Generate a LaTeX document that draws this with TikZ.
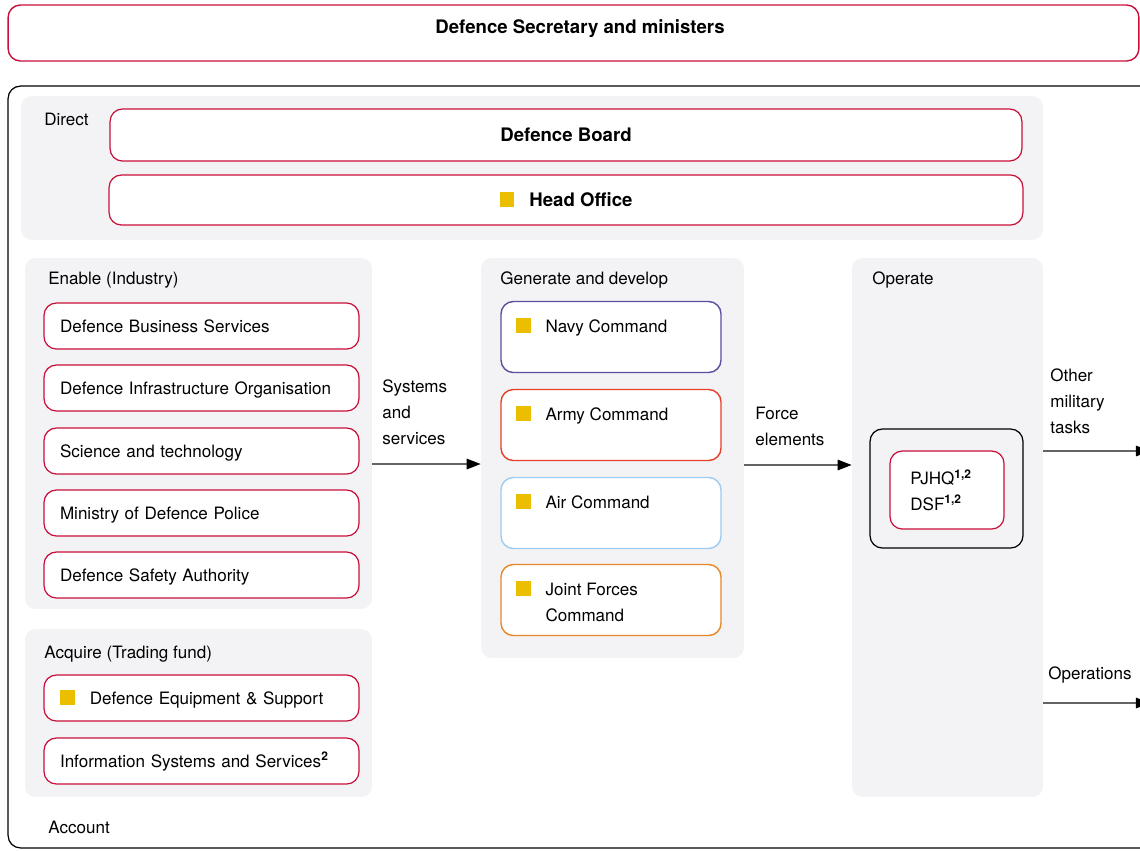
\documentclass[tikz,border=0pt]{standalone}
\usepackage{fontspec}
\setmainfont{TeX Gyre Heros}
\usepackage{xcolor}
\usetikzlibrary{positioning}
\usetikzlibrary{arrows.meta}

\definecolor{modred}{RGB}{200,16,58}
\definecolor{panelgray}{RGB}{243,243,245}
\definecolor{markyellow}{RGB}{236,190,0}
\definecolor{navyline}{RGB}{88,80,160}
\definecolor{armyline}{RGB}{232,64,40}
\definecolor{airline}{RGB}{156,204,240}
\definecolor{jointline}{RGB}{230,136,40}
\definecolor{arrowgray}{RGB}{100,100,100}

\newcommand{\marker}{\textcolor{markyellow}{\rule[-0.3pt]{8.5pt}{8.5pt}}\hspace{8.5pt}}

\begin{document}
\begin{tikzpicture}[x=0.02cm, y=-0.02cm, font=\fontsize{9.7}{14.7}\selectfont,
    panel/.style={fill=panelgray, rounded corners=6pt, inner sep=0pt},
    heading/.style={anchor=west, inner sep=0pt, align=left},
    unit/.style={draw=modred, fill=white, line width=0.7pt, rounded corners=7pt,
        minimum width=6.3cm, minimum height=0.92cm, text width=5.66cm, align=left,
        inner xsep=0.32cm, inner ysep=0pt, text height=7.2pt, text depth=0pt},
    command/.style={draw=#1, fill=white, line width=0.8pt, rounded corners=7pt,
        minimum width=4.4cm, minimum height=1.42cm},
    boldtext/.style={font=\fontsize{10.6}{13}\selectfont\bfseries},
    flow/.style={arrowgray, line width=0.7pt, -{Triangle[length=8pt, width=6pt, color=black]}}]
        \useasboundingbox (0,0) rectangle (1140,850);
        \clip (0,0) rectangle (1140,850);

        % Ministers and the department
        \node[draw=modred, line width=0.8pt, rounded corners=7pt, minimum width=22.62cm, minimum height=1.12cm] (secretary) at (573.5,33) {};
        \node[boldtext, inner sep=0pt] (secretarytext) at (580,28.5) {Defence Secretary and ministers};
        \node[draw=black, line width=0.7pt, rounded corners=7pt, minimum width=23.04cm, minimum height=15.24cm] (department) at (584,467) {};

        % Direct
        \node[panel, minimum width=20.44cm, minimum height=2.88cm] (direct) at (532,168) {};
        \node[heading] (directtitle) at (44,119) {Direct};
        \node[unit, boldtext, text width=, align=center, minimum width=18.24cm, minimum height=1.04cm] (board) at (566,135) {Defence Board};
        \node[unit, boldtext, text width=, align=center, minimum width=18.28cm, minimum height=1.0cm] (headoffice) at (566,200) {\marker Head Office};

        % Enable
        \node[panel, minimum width=6.94cm, minimum height=7.02cm] (enable) at (198.5,433.5) {};
        \node[heading] (enabletitle) at (48,280) {Enable (Industry)};
        \node[unit] (dbs) at (201.5,326) {Defence Business Services};
        \node[unit] (dio) at (201.5,388) {Defence Infrastructure Organisation};
        \node[unit] (dstl) at (201.5,451) {Science and technology};
        \node[unit] (police) at (201.5,513) {Ministry of Defence Police};
        \node[unit] (dsa) at (201.5,575) {Defence Safety Authority};

        % Acquire
        \node[panel, minimum width=6.94cm, minimum height=3.36cm] (acquire) at (198.5,713) {};
        \node[heading] (acquiretitle) at (44,654) {Acquire (Trading fund)};
        \node[unit] (des) at (201.5,698) {\marker Defence Equipment \& Support};
        \node[unit] (iss) at (201.5,761) {Information Systems and Services\textsuperscript{\textbf{2}}};
        \node[heading] (account) at (48,827) {Account};

        % Generate and develop
        \node[panel, minimum width=5.26cm, minimum height=8cm] (generate) at (612.5,458) {};
        \node[heading] (generatetitle) at (500,280) {Generate and develop};
        \node[command=navyline] (navy) at (611,337) {};
        \node[command=armyline] (army) at (611,425) {};
        \node[command=airline] (air) at (611,513) {};
        \node[command=jointline] (joint) at (611,600) {};
        \foreach \cmd/\txt in {navy/Navy Command, army/Army Command, air/Air Command}
            \node[inner sep=0pt, anchor=north west, below right=0.34cm and 0.3cm of \cmd.north west] (\cmd text) {\marker\txt};
        \node[inner sep=0pt, anchor=north west, align=left, below right=0.34cm and 0.3cm of joint.north west] (jointtext) {\marker Joint Forces\\\hspace{17pt}Command};

        % Operate
        \node[panel, minimum width=3.82cm, minimum height=10.78cm] (operate) at (947.5,527.5) {};
        \node[heading] (operatetitle) at (872,280) {Operate};
        \node[draw=black, line width=0.7pt, rounded corners=7pt, minimum width=3.06cm, minimum height=2.38cm] (opsgroup) at (946.5,488.5) {};
        \node[draw=modred, fill=white, line width=0.7pt, rounded corners=7pt, minimum width=2.28cm, minimum height=1.56cm] (pjhq) at (947,490) {};
        \node[heading] (pjhqtext) at (910,490) {PJHQ\textsuperscript{\textbf{1,2}}\\DSF\textsuperscript{\textbf{1,2}}};

        % Flows
        \coordinate (sysrow) at (0,464);
        \coordinate (forcerow) at (0,465);
        \coordinate (tasksend) at (1150,451);
        \coordinate (opsend) at (1150,703);
        \node[heading] (systemslabel) at (382,412) {Systems\\and\\services};
        \node[heading] (forcelabel) at (755,426.5) {Force\\elements};
        \node[heading] (taskslabel) at (1050,401) {Other\\military\\tasks};
        \node[heading] (opslabel) at (1048,675) {Operations};
        \draw[flow] (enable.east |- sysrow) -- (generate.west |- sysrow);
        \draw[flow] (generate.east |- forcerow) -- (operate.west |- forcerow);
        \draw[flow] (operate.east |- tasksend) -- (tasksend);
        \draw[flow] (operate.east |- opsend) -- (opsend);
\end{tikzpicture}
\end{document}
